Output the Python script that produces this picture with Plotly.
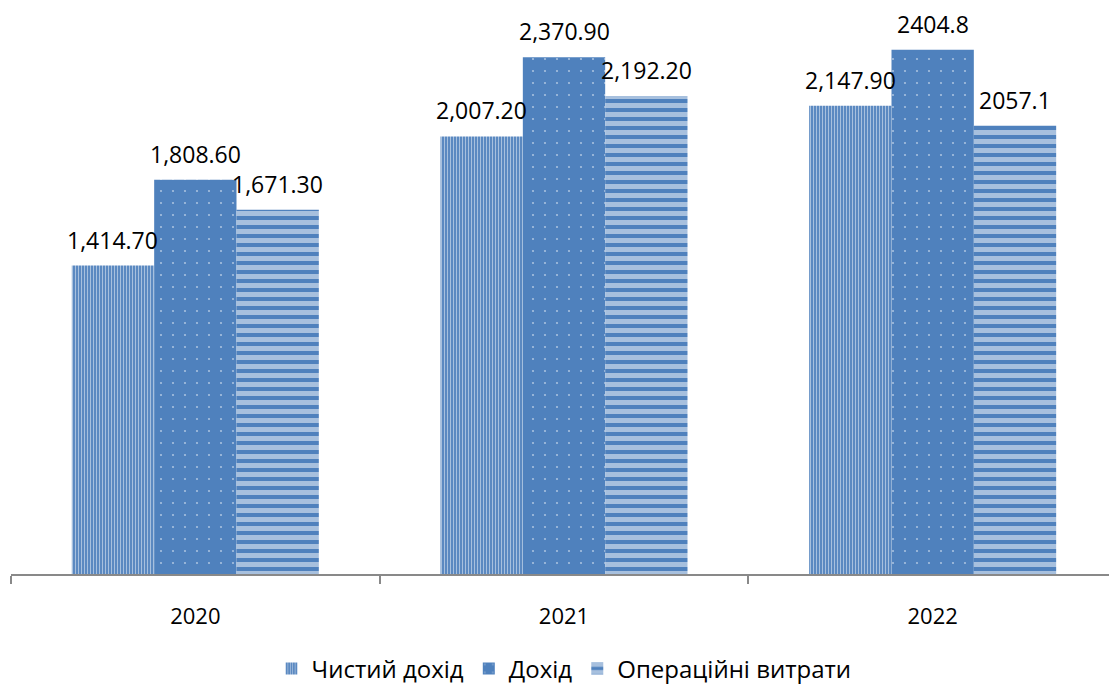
import plotly.graph_objects as go

years = ["2020", "2021", "2022"]
net_income = [1414.70, 2007.20, 2147.90]
income = [1808.60, 2370.90, 2404.8]
op_costs = [1671.30, 2192.20, 2057.1]
net_labels = ["1,414.70", "2,007.20", "2,147.90"]
income_labels = ["1,808.60", "2,370.90", "2404.8"]
op_labels = ["1,671.30", "2,192.20", "2057.1"]

BLUE = "#4F81BD"
FONT = "Open Sans, sans-serif"
BARGAP = 0.33
PLOT_W = 1106

series = [
    ("Чистий дохід", net_income, net_labels,
     dict(color=BLUE, line=dict(width=0),
          pattern=dict(shape="|", fgcolor="white", bgcolor=BLUE, size=3, solidity=0.42))),
    ("Дохід", income, income_labels,
     dict(color=BLUE, line=dict(width=0),
          pattern=dict(shape=".", fgcolor="white", bgcolor=BLUE, size=12, solidity=0.026))),
    ("Операційні витрати", op_costs, op_labels,
     dict(color=BLUE, line=dict(width=0),
          pattern=dict(shape="-", fgcolor="white", bgcolor=BLUE, size=9, solidity=0.56))),
]

fig = go.Figure()
bar_w = PLOT_W / len(years) * (1 - BARGAP) / len(series)
for i, (name, vals, labels, marker) in enumerate(series):
    fig.add_trace(go.Bar(name=name, x=years, y=vals, marker=marker))
    for j, (v, lab) in enumerate(zip(vals, labels)):
        # category axis: annotation x given as category index
        fig.add_annotation(x=j, y=v, xref="x", yref="y", text=lab, showarrow=False,
                           xshift=(i - 1) * bar_w, yshift=26, yanchor="middle",
                           font=dict(size=23, family=FONT, color="#000000"))

fig.update_layout(
    width=1117, height=686,
    paper_bgcolor="white", plot_bgcolor="white",
    margin=dict(l=3, r=8, t=21, b=115),
    barmode="group", bargap=BARGAP, bargroupgap=0,
    font=dict(family=FONT, size=22, color="#000000"),
    showlegend=True,
    legend=dict(orientation="h", x=0.5, xanchor="center", y=-0.174, yanchor="middle",
                font=dict(size=24, family=FONT), traceorder="normal"),
    xaxis=dict(type="category", range=[-0.5, len(years) - 0.5],
               showline=True, linecolor="#898989", linewidth=1.5,
               ticks="outside", tickson="boundaries", ticklen=8, tickcolor="#898989",
               tickwidth=1.5, ticklabelstandoff=22,
               tickfont=dict(size=22, family=FONT, color="#000000"), showgrid=False),
    yaxis=dict(range=[0, 2500], visible=False, showgrid=False),
)

fig.write_html("out.html")
